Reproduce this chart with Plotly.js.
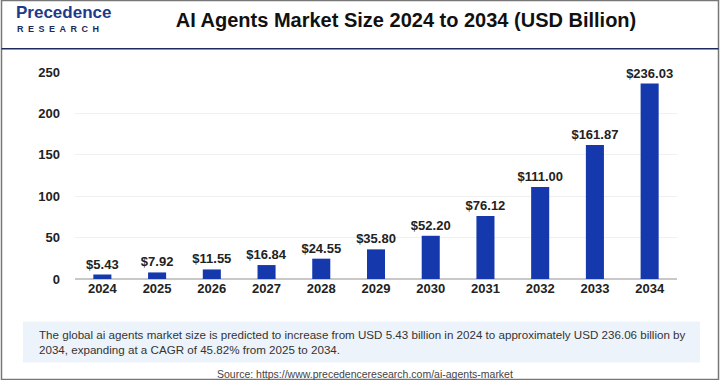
<!DOCTYPE html>
<html><head><meta charset="utf-8">
<script src="https://cdn.plot.ly/plotly-3.0.1.min.js"></script>
<style>html,body{margin:0;padding:0;background:#fff}#chart{width:720px;height:380px}</style>
</head><body><div id="chart"></div>
<script>
const years = ["2024","2025","2026","2027","2028","2029","2030","2031","2032","2033","2034"];
const marketSize = [5.43, 7.92, 11.55, 16.84, 24.55, 35.80, 52.20, 76.12, 111.00, 161.87, 236.03];
const yTicks = [0, 50, 100, 150, 200, 250];

const trace = {
  type: 'bar', x: years, y: marketSize,
  marker: {color: '#1538ad', line: {width: 0}},
  width: 0.33,
  text: marketSize.map(v => '$' + v.toFixed(2)),
  texttemplate: '%{text}',
  textposition: 'outside', cliponaxis: false, constraintext: 'none',
  textfont: {family: 'Liberation Sans, Arial, sans-serif', size: 13, color: '#222', weight: 'bold'},
  hoverinfo: 'none'
};

const L = 75, R = 43, T = 72.3, B = 101.3;
const pw = 720 - L - R, ph = 380 - T - B;
const px = x => (x - L) / pw;
const py = y => (380 - B - y) / ph;

const layout = {
  width: 720, height: 380,
  margin: {l: L, r: R, t: T, b: B},
  paper_bgcolor: '#fff', plot_bgcolor: '#fff',
  showlegend: false,
  xaxis: {type: 'category', range: [-0.5, 10.5], showgrid: false, zeroline: false,
    showline: false, ticks: '', ticklen: 0,
    tickfont: {family: 'Liberation Sans, Arial, sans-serif', size: 13, color: '#222', weight: 'bold'}},
  yaxis: {range: [0, 250], tickvals: yTicks, ticktext: yTicks.map(String),
    showgrid: true, gridcolor: '#f0f0f0', gridwidth: 1,
    zeroline: true, zerolinecolor: '#c8c8c8', zerolinewidth: 2,
    ticks: '', ticklabelstandoff: 14,
    tickfont: {family: 'Liberation Sans, Arial, sans-serif', size: 13, color: '#222', weight: 'bold'}},
  title: {text: 'AI Agents Market Size 2024 to 2034 (USD Billion)', x: 406/720, xanchor: 'center', y: 1 - 20/380, yanchor: 'middle',
    font: {family: 'Liberation Sans, Arial, sans-serif', size: 20, color: '#111', weight: 'bold'}},
  shapes: [
    {type: 'rect', xref: 'paper', yref: 'paper', x0: px(1.5), x1: px(718.5), y0: py(379), y1: py(1), line: {color: '#777', width: 1.5}, fillcolor: 'rgba(0,0,0,0)'},
    {type: 'line', xref: 'paper', yref: 'paper', x0: px(1.5), x1: px(718.5), y0: py(49), y1: py(49), line: {color: '#1c2a5e', width: 1.5}},
    {type: 'rect', xref: 'paper', yref: 'paper', x0: px(23), x1: px(700), y0: py(362), y1: py(321), line: {width: 0}, fillcolor: '#edf3fb', layer: 'below'}
  ],
  annotations: [
    {xref: 'paper', yref: 'paper', x: px(14), y: py(13), xanchor: 'left', yanchor: 'middle', showarrow: false,
     text: 'Precedence', font: {family: 'Liberation Sans, Arial, sans-serif', size: 17, color: '#1e3a8a', weight: 'bold'}},
    {xref: 'paper', yref: 'paper', x: px(15), y: py(29), xanchor: 'left', yanchor: 'middle', showarrow: false,
     text: 'R\u2002E\u2002S\u2002E\u2002A\u2002R\u2002C\u2002H', font: {family: 'Liberation Sans, Arial, sans-serif', size: 9, color: '#1c2a5e', weight: 'bold'}},
    {xref: 'paper', yref: 'paper', x: px(37), y: py(341.5), xanchor: 'left', yanchor: 'middle', align: 'left', showarrow: false,
     text: 'The global ai agents market size is predicted to increase from USD 5.43 billion in 2024 to approximately USD 236.06 billion by<br>2034, expanding at a CAGR of 45.82% from 2025 to 2034.',
     font: {family: 'Liberation Sans, Arial, sans-serif', size: 11.6, color: '#333'}},
    {xref: 'paper', yref: 'paper', x: px(365), y: py(373), xanchor: 'center', yanchor: 'middle', showarrow: false,
     text: 'Source: https://www.precedenceresearch.com/ai-agents-market',
     font: {family: 'Liberation Sans, Arial, sans-serif', size: 10.5, color: '#444'}}
  ]
};

Plotly.newPlot('chart', [trace], layout, {staticPlot: true, displayModeBar: false});
</script></body></html>
